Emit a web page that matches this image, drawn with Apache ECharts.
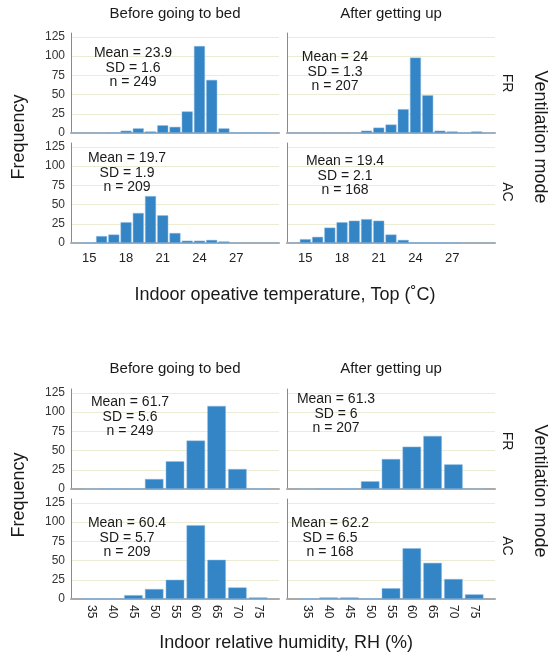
<!DOCTYPE html>
<html>
<head>
<meta charset="utf-8">
<script src="https://cdn.jsdelivr.net/npm/echarts@6/dist/echarts.min.js"></script>
<style>
  html, body { margin: 0; padding: 0; background: #fff; }
  #hist { width: 550px; height: 659px; }
</style>
</head>
<body>
<div id="hist"></div>
<script>
// temperature bins (1 °C) and counts
const tempBins = [14, 15, 16, 17, 18, 19, 20, 21, 22, 23, 24, 25, 26, 27, 28, 29, 30];
const tempTicks = [15, 18, 21, 24, 27];
const tempFrBefore = [0, 0, 0, 1, 3, 6, 2, 10, 8, 28, 113, 69, 6, 1, 1, 1, 0];
const tempFrAfter  = [0, 0, 0, 0, 0, 0, 3, 7, 11, 31, 98, 49, 3, 2, 1, 2, 0];
const tempAcBefore = [0, 1, 9, 11, 27, 39, 61, 36, 13, 3, 3, 4, 2, 0, 0, 0, 0];
const tempAcAfter  = [0, 5, 8, 20, 27, 29, 31, 29, 11, 4, 1, 1, 1, 1, 0, 0, 0];

// humidity bins (5 %) and counts
const humBins = [35, 40, 45, 50, 55, 60, 65, 70, 75];
const humFrBefore = [0, 1, 1, 13, 36, 63, 108, 26, 1];
const humFrAfter  = [0, 1, 1, 10, 39, 55, 69, 32, 0];
const humAcBefore = [1, 1, 5, 13, 25, 96, 51, 15, 2];
const humAcAfter  = [1, 2, 2, 1, 14, 66, 47, 26, 6];

// panel annotations
const tempStats = ["Mean = 23.9\nSD = 1.6\nn = 249", "Mean = 24\nSD = 1.3\nn = 207",
                   "Mean = 19.7\nSD = 1.9\nn = 209", "Mean = 19.4\nSD = 2.1\nn = 168"];
const humStats  = ["Mean = 61.7\nSD = 5.6\nn = 249", "Mean = 61.3\nSD = 6\nn = 207",
                   "Mean = 60.4\nSD = 5.7\nn = 209", "Mean = 62.2\nSD = 6.5\nn = 168"];
const colTitles = ["Before going to bed", "After getting up"];
const modes = ["FR", "AC"];

const FONT = "'Liberation Sans', Arial, Helvetica, sans-serif";
const BAR = "#3385c6";

let chart = echarts.init(document.getElementById("hist"), null, { renderer: "canvas" });

// grid positions: temperature block then humidity block
const gridPos = [
  { left: 71, top: 33 }, { left: 287, top: 33 },
  { left: 71, top: 143 }, { left: 287, top: 143 },
  { left: 71, top: 389 }, { left: 287, top: 389 },
  { left: 71, top: 499 }, { left: 287, top: 499 },
];
const grids = gridPos.map((g) => ({ left: g.left, top: g.top, width: 208, height: 100 }));

function tempX(gi, showLabel) {
  return {
    type: "category",
    gridIndex: gi,
    data: tempBins.map(String),
    boundaryGap: true,
    axisLine: { lineStyle: { color: "#a9a9a9", width: 2 } },
    axisTick: { show: false },
    splitLine: { show: false },
    axisLabel: {
      show: showLabel,
      interval: (i, v) => tempTicks.includes(+v),
      color: "#222",
      fontSize: 13,
      fontFamily: FONT,
      margin: 9,
    },
  };
}

function humX(gi, showLabel) {
  return {
    type: "value",
    gridIndex: gi,
    min: 30,
    max: 80,
    interval: 5,
    axisLine: { onZero: false, lineStyle: { color: "#a9a9a9", width: 2 } },
    axisTick: { show: false },
    splitLine: { show: false },
    axisLabel: {
      show: showLabel,
      rotate: -90,
      formatter: (v) => (humBins.includes(v) ? String(v) : ""),
      color: "#222",
      fontSize: 12,
      fontFamily: FONT,
      margin: 6,
    },
  };
}

function yAx(gi, showLabel) {
  return {
    type: "value",
    gridIndex: gi,
    min: 0,
    max: 130,
    interval: 25,
    axisLine: { show: true, lineStyle: { color: "#8a8a8a", width: 1 } },
    axisTick: { show: false },
    axisLabel: {
      show: showLabel,
      showMaxLabel: false,
      color: "#333",
      fontSize: 12,
      fontFamily: FONT,
      margin: 6,
    },
    splitLine: { show: true, showMaxLine: false, lineStyle: { color: "#ecebd4", width: 1 } },
  };
}

const xAxes = [
  tempX(0, false), tempX(1, false), tempX(2, true), tempX(3, true),
  humX(4, false), humX(5, false), humX(6, true), humX(7, true),
];
const yAxes = [0, 1, 2, 3, 4, 5, 6, 7].map((i) => yAx(i, i % 2 === 0));

const tempSets = [tempFrBefore, tempFrAfter, tempAcBefore, tempAcAfter];
const humSets = [humFrBefore, humFrAfter, humAcBefore, humAcAfter];

let series = [];
tempSets.forEach((d, i) => {
  series.push({
    type: "bar", xAxisIndex: i, yAxisIndex: i, data: d, barWidth: 11,
    itemStyle: { color: BAR, borderColor: "#8fbbe3", borderWidth: 0.5 }, silent: true,
  });
});
humSets.forEach((d, i) => {
  series.push({
    type: "bar", xAxisIndex: i + 4, yAxisIndex: i + 4,
    data: humBins.map((b, k) => [b, d[k]]), barWidth: 18.5,
    itemStyle: { color: BAR, borderColor: "#8fbbe3", borderWidth: 0.5 }, silent: true,
  });
});

function txt(x, y, text, size, opt) {
  return Object.assign({
    type: "text", x: x, y: y, z: 100, silent: true,
    style: {
      text: text, fill: "#1a1a1a", font: size + "px " + FONT,
      textAlign: "center", textVerticalAlign: "middle",
    },
  }, opt || {});
}

function statTxt(x, yFirst, text) {
  return {
    type: "text", x: x, y: yFirst - 7, z: 100, silent: true,
    style: {
      text: text, fill: "#1a1a1a", font: "14px " + FONT, lineHeight: 14.5,
      textAlign: "center", textVerticalAlign: "top",
    },
  };
}

const statPos = [[133, 53], [335, 57], [127, 158], [345, 161],
                 [130, 402], [336, 399], [127, 523], [330, 523]];

let graphics = [];
// temperature block
graphics.push(txt(175, 14, colTitles[0], 15));
graphics.push(txt(391, 14, colTitles[1], 15));
graphics.push(txt(19, 137, "Frequency", 18, { rotation: Math.PI / 2 }));
graphics.push(txt(540, 137, "Ventilation mode", 18, { rotation: -Math.PI / 2 }));
graphics.push(txt(507, 83, modes[0], 14, { rotation: -Math.PI / 2 }));
graphics.push(txt(507, 192, modes[1], 14, { rotation: -Math.PI / 2 }));
graphics.push(txt(285, 295, "Indoor opeative temperature, Top (˚C)", 18));
// humidity block
graphics.push(txt(175, 369, colTitles[0], 15));
graphics.push(txt(391, 369, colTitles[1], 15));
graphics.push(txt(19, 495, "Frequency", 18, { rotation: Math.PI / 2 }));
graphics.push(txt(540, 491, "Ventilation mode", 18, { rotation: -Math.PI / 2 }));
graphics.push(txt(507, 441, modes[0], 14, { rotation: -Math.PI / 2 }));
graphics.push(txt(507, 546, modes[1], 14, { rotation: -Math.PI / 2 }));
graphics.push(txt(286, 643, "Indoor relative humidity, RH (%)", 18));

tempStats.concat(humStats).forEach((s, i) => {
  graphics.push(statTxt(statPos[i][0], statPos[i][1], s));
});

chart.setOption({
  animation: false,
  backgroundColor: "#fff",
  grid: grids,
  xAxis: xAxes,
  yAxis: yAxes,
  series: series,
  graphic: graphics,
});
</script>
</body>
</html>
